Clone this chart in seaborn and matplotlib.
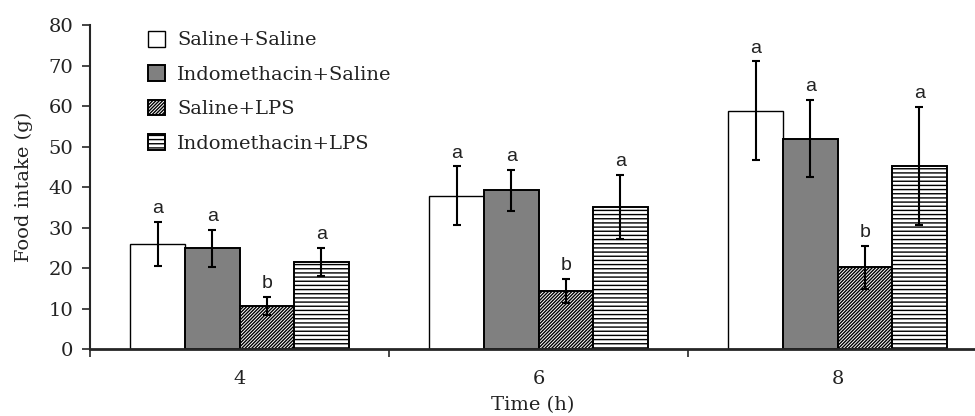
import numpy as np
import pandas as pd
import matplotlib
matplotlib.use("Agg")
import matplotlib.pyplot as plt
import seaborn as sns

# ---- data ----
times = ["4", "6", "8"]
groups = ["Saline+Saline", "Indomethacin+Saline", "Saline+LPS", "Indomethacin+LPS"]

mean_saline_saline = [26.0, 37.9, 58.9]
mean_indo_saline = [24.9, 39.2, 52.0]
mean_saline_lps = [10.6, 14.4, 20.2]
mean_indo_lps = [21.6, 35.1, 45.2]

err_saline_saline = [5.4, 7.2, 12.1]
err_indo_saline = [4.5, 5.0, 9.4]
err_saline_lps = [2.2, 3.0, 5.4]
err_indo_lps = [3.4, 7.8, 14.6]

letters_saline_saline = ["a", "a", "a"]
letters_indo_saline = ["a", "a", "a"]
letters_saline_lps = ["b", "b", "b"]
letters_indo_lps = ["a", "a", "a"]

yticks = [0, 10, 20, 30, 40, 50, 60, 70, 80]

means = [mean_saline_saline, mean_indo_saline, mean_saline_lps, mean_indo_lps]
errs = [err_saline_saline, err_indo_saline, err_saline_lps, err_indo_lps]
letters = [letters_saline_saline, letters_indo_saline, letters_saline_lps, letters_indo_lps]

df = pd.DataFrame({
    "time": np.repeat([times], len(groups), axis=0).ravel(),
    "group": np.repeat(groups, len(times)),
    "intake": np.concatenate(means),
})

# ---- style ----
sns.set_style("ticks")
plt.rcParams["font.family"] = ["DejaVu Serif"]
plt.rcParams["hatch.linewidth"] = 1.0

colors = ["#ffffff", "#808080", "#ffffff", "#ffffff"]
hatches = [None, None, "//////////", "----"]

fig = plt.figure(figsize=(9.75, 4.16), dpi=100)
ax = fig.add_axes([90 / 975, 1 - 349.3 / 416, 1 - 90 / 975, (349.3 - 25) / 416])

sns.barplot(data=df, x="time", y="intake", hue="group", order=times, hue_order=groups,
            palette=colors, width=0.73, errorbar=None, edgecolor="black", linewidth=1.4,
            saturation=1, legend=False, ax=ax)

bar_containers = list(ax.containers)
for i, cont in enumerate(bar_containers):
    for j, p in enumerate(cont.patches):
        if hatches[i]:
            p.set_hatch(hatches[i])
        if i == 0:
            p.set_linewidth(1.0)
        xc = p.get_x() + p.get_width() / 2
        h = p.get_height()
        e = errs[i][j]
        ax.errorbar(xc, h, yerr=e, fmt="none", ecolor="black", elinewidth=1.5,
                    capsize=3.2, capthick=1.5, zorder=5)
        ax.text(xc, h + e + 2.2, letters[i][j], ha="center", va="baseline",
                fontsize=14, family=["Liberation Sans"], color="#222222")

ax.set_ylim(0, 80)
ax.set_xlim(-0.5, -0.5 + (975 - 90) / 299)
ax.set_yticks(yticks)
ax.set_xticks(range(len(times)))
ax.set_xticklabels(times)
ax.set_xticks([-0.5, 0.5, 1.5], minor=True)
ax.tick_params(axis="x", which="major", length=0, pad=15, labelsize=14, colors="#222222")
ax.tick_params(axis="x", which="minor", length=5.5, width=1.2, direction="out")
ax.tick_params(axis="y", length=5.8, width=1.2, pad=6, labelsize=14, labelcolor="#222222")

for s in ["top", "right"]:
    ax.spines[s].set_visible(False)
ax.spines["left"].set_linewidth(1.5)
ax.spines["bottom"].set_linewidth(2.0)

ax.set_xlabel("Time (h)", fontsize=14, color="#222222", labelpad=6)
ax.set_ylabel("Food intake (g)", fontsize=14, color="#222222", labelpad=11)

handles = [c.patches[0] for c in bar_containers]
leg = ax.legend(handles, groups, loc="upper left", bbox_to_anchor=(148 / 975, 1 - 31 / 416),
                bbox_transform=fig.transFigure, frameon=False, fontsize=14,
                handlelength=0.85, handleheight=0.85, handletextpad=0.65, labelspacing=0.82,
                borderpad=0, borderaxespad=0)
for t in leg.get_texts():
    t.set_color("#222222")

fig.savefig("out.png", dpi=100)
